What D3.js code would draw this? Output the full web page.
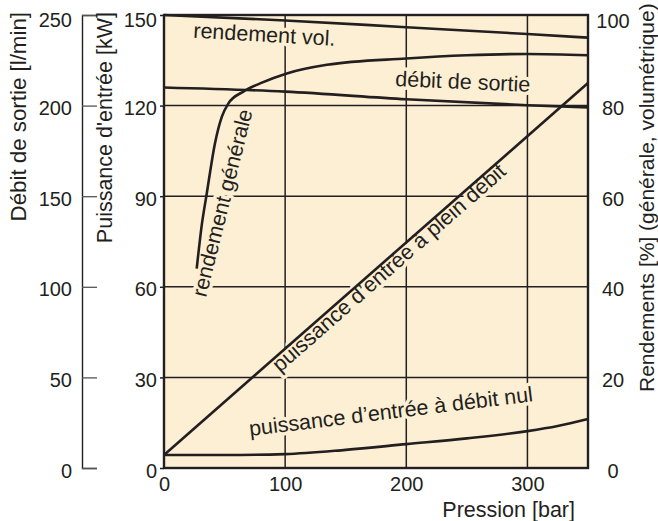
<!DOCTYPE html>
<html><head><meta charset="utf-8">
<script src="https://cdn.jsdelivr.net/npm/d3@7"></script>
<style>
body{margin:0;background:#fff}
svg{display:block}
text{font-family:"Liberation Sans",Arial,Helvetica,sans-serif;fill:#231f20}
</style>
</head><body><svg id="c" width="658" height="521"></svg>
<script>
// ---- data ----
const pressureTicks = [0, 100, 200, 300];
const powerTicks = [0, 30, 60, 90, 120, 150];
const flowTicks = [0, 50, 100, 150, 200, 250];
const effTicks = [0, 20, 40, 60, 80, 100];
// [pression bar, value]
const volEff = [[0,100],[100,98.8],[200,97.3],[300,95.8],[350,95]];                // %
const flowOut = [[0,210],[100,207.7],[200,203.5],[300,200.2],[350,199]];            // l/min
const genEff = [[27,44],[31,53.3],[35.3,60.6],[42.1,71.7],[47.7,77.5],[53.2,80.5],[65.5,83.1],
                [79.3,84.9],[101.4,87.1],[134.5,89],[200,90.4],[250,91.1],[300,91.4],[350,91.1]]; // %
const powerFull = [[0,4.3],[350,127.5]];                                           // kW
const powerZero = [[0,4.3],[50,4.3],[100,4.6],[150,6.0],[200,7.9],[250,9.8],[300,12.2],[325,13.9],[350,16.2]]; // kW
const curveLabels = [
  {text:"rendement vol.", x:193, y:37.7, rot:3.3},
  {text:"débit de sortie", x:395, y:86, rot:2.5},
  {text:"rendement générale", x:206, y:298, rot:-76},
  {text:"puissance d’entrée à plein débit", x:280, y:373, rot:-41.3},
  {text:"puissance d’entrée à débit nul", x:250, y:436, rot:-7}
];

// ---- layout ----
const L = 164, R = 588, T = 15, B = 468;
const ink = "#231f20", bg = "#fdefd4";
const svg = d3.select("#c");
const x = d3.scaleLinear([0, 350], [L, R]);
const yP = d3.scaleLinear([0, 150], [B, T]);
const yF = d3.scaleLinear([0, 250], [B, T]);
const yE = d3.scaleLinear([0, 100], [B, T]);

svg.append("rect").attr("x", L).attr("y", T).attr("width", R - L).attr("height", B - T).attr("fill", bg);

// grid
const grid = svg.append("g").attr("stroke", ink).attr("stroke-width", 1.5);
grid.selectAll(".gv").data(pressureTicks.filter(d => d > 0)).join("line")
  .attr("x1", d => x(d)).attr("x2", d => x(d)).attr("y1", T).attr("y2", B);
grid.selectAll(".gh").data(powerTicks.filter(d => d > 0 && d < 150)).join("line")
  .attr("y1", d => yP(d)).attr("y2", d => yP(d)).attr("x1", L).attr("x2", R);

// curve labels with halo
svg.append("g").selectAll("text").data(curveLabels).join("text")
  .attr("transform", d => `translate(${d.x},${d.y}) rotate(${d.rot})`)
  .attr("font-size", 21.5)
  .attr("stroke", bg).attr("stroke-width", 7).attr("paint-order", "stroke")
  .attr("stroke-linejoin", "round")
  .text(d => d.text);

// curves
const lineE = d3.line().x(d => x(d[0])).y(d => yE(d[1])).curve(d3.curveMonotoneX);
const lineF = d3.line().x(d => x(d[0])).y(d => yF(d[1])).curve(d3.curveMonotoneX);
const lineP = d3.line().x(d => x(d[0])).y(d => yP(d[1])).curve(d3.curveMonotoneX);
const curves = svg.append("g").attr("fill", "none").attr("stroke", ink).attr("stroke-width", 2.6);
curves.append("path").attr("d", lineE(volEff));
curves.append("path").attr("d", lineF(flowOut));
curves.append("path").attr("d", lineE(genEff));
curves.append("path").attr("d", lineP(powerFull));
curves.append("path").attr("d", lineP(powerZero));

// border
svg.append("rect").attr("x", L).attr("y", T).attr("width", R - L).attr("height", B - T)
  .attr("fill", "none").attr("stroke", ink).attr("stroke-width", 2.4);

function styleAxis(g, fs) {
  g.selectAll("text").attr("font-size", fs).attr("fill", ink)
   .style("font-family", '"Liberation Sans",Arial,Helvetica,sans-serif');
  g.selectAll("line,path").attr("stroke", ink);
  g.attr("font-family", null).attr("font-size", null);
}

// inner left axis (kW)
const gP = svg.append("g").attr("transform", `translate(${L},0)`)
  .call(d3.axisLeft(yP).tickValues(powerTicks).tickSize(4).tickPadding(3));
gP.select(".domain").remove();
styleAxis(gP, 20);
gP.selectAll("text").attr("dy", d => d === 150 ? "0.58em" : "0.45em");
gP.selectAll("line").attr("stroke-width", 1.5);

// outer left axis (l/min)
const gF = svg.append("g").attr("transform", `translate(82,0)`)
  .call(d3.axisLeft(yF).tickValues(flowTicks).tickSize(-15).tickPadding(10));
styleAxis(gF, 20);
gF.select(".domain").attr("stroke-width", 1.4);
gF.selectAll(".tick line").attr("stroke", "#555").attr("stroke-width", 1.3);
gF.selectAll("text").attr("dy", d => d === 250 ? "0.58em" : "0.45em");

// right axis (%)
const gE = svg.append("g").attr("transform", `translate(${R},0)`)
  .call(d3.axisRight(yE).tickValues(effTicks).tickSize(0).tickPadding(25));
gE.select(".domain").remove();
styleAxis(gE, 20);
gE.selectAll("text").attr("text-anchor", "middle").attr("dy", d => d === 100 ? "0.62em" : "0.45em");

// bottom axis
const gX = svg.append("g").attr("transform", `translate(0,${B})`)
  .call(d3.axisBottom(x).tickValues(pressureTicks).tickSize(0).tickPadding(9));
gX.select(".domain").remove();
styleAxis(gX, 20);

// titles
svg.append("text").attr("x", 575).attr("y", 516.5).attr("text-anchor", "end")
  .attr("font-size", 21.5).text("Pression [bar]");
svg.append("text").attr("transform", "translate(25.5,12) rotate(-90)").attr("text-anchor", "end")
  .attr("font-size", 22.3).text("Débit de sortie [l/min]");
svg.append("text").attr("transform", "translate(111.5,12) rotate(-90)").attr("text-anchor", "end")
  .attr("font-size", 21.5).text("Puissance d'entrée [kW]");
svg.append("text").attr("transform", "translate(653.5,392) rotate(-90)").attr("text-anchor", "start")
  .attr("font-size", 21).text("Rendements [%] (générale, volumétrique)");
</script>
</body></html>
